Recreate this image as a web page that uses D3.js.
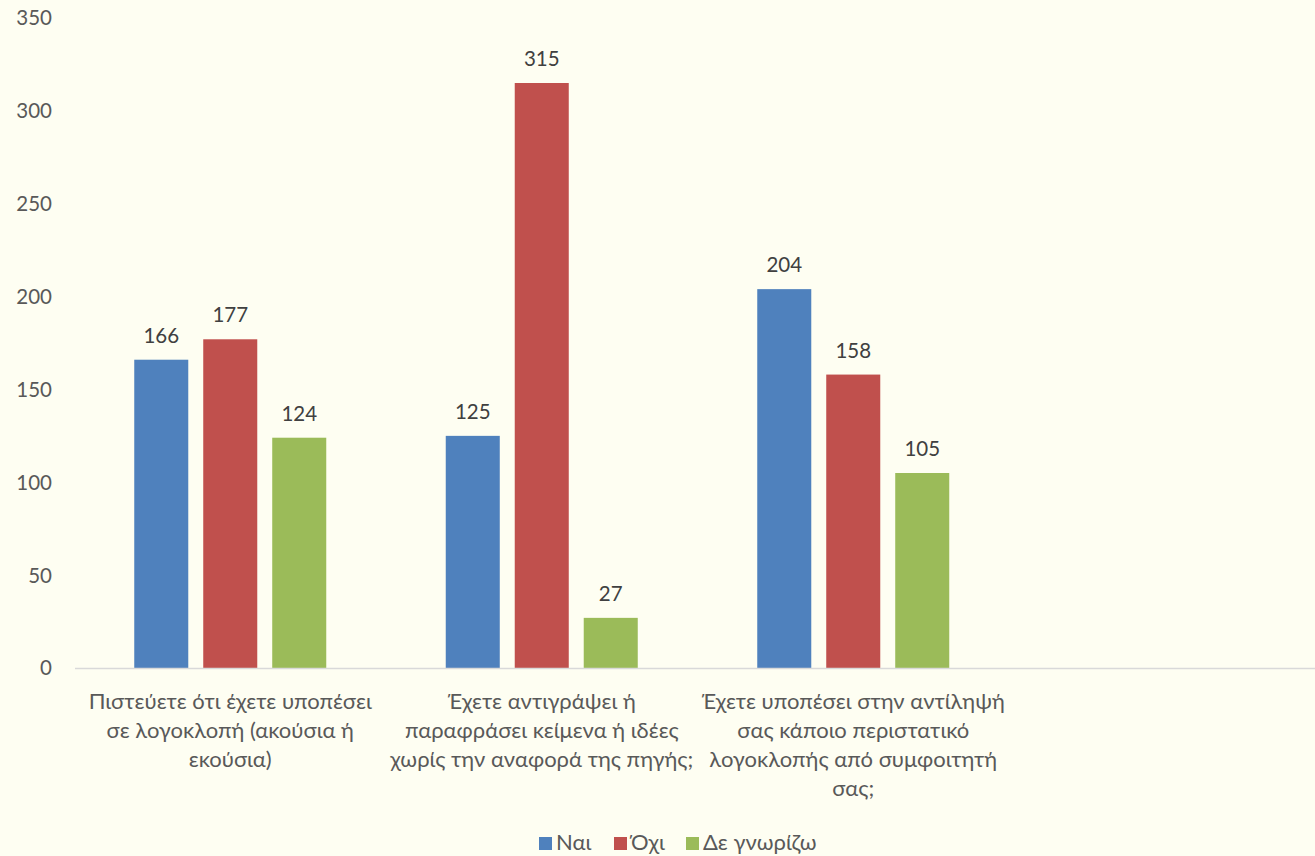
<!DOCTYPE html>
<html><head><meta charset="utf-8">
<script src="https://cdn.jsdelivr.net/npm/d3@7"></script>
<style>body{margin:0;background:#FEFEF2;}svg{display:block;font-family:Lato,"Open Sans",sans-serif;}</style>
</head><body><svg id="c" width="1315" height="856"></svg>
<script>
const categories = [
  ["Πιστεύετε ότι έχετε υποπέσει","σε λογοκλοπή (ακούσια ή","εκούσια)"],
  ["Έχετε αντιγράψει ή","παραφράσει κείμενα ή ιδέες","χωρίς την αναφορά της πηγής;"],
  ["Έχετε υποπέσει στην αντίληψή","σας κάποιο περιστατικό","λογοκλοπής από συμφοιτητή","σας;"],
  []
];
const seriesNames = ["Ναι","Όχι","Δε γνωρίζω"];
const nai = [166,125,204,null];
const oxi = [177,315,158,null];
const deGnorizo = [124,27,105,null];
const yTicks = [0,50,100,150,200,250,300,350];
const colors = ["#4F81BD","#C0504D","#9BBB59"];
const series = [nai,oxi,deGnorizo];

const svg = d3.select("#c");
const mLeft = 74.5, mRight = 1320.5, mTop = 18, mBottom = 668;
const x0 = d3.scaleBand().domain(d3.range(categories.length)).range([mLeft,mRight]).paddingInner(0).paddingOuter(0);
const x1 = d3.scaleBand().domain(d3.range(series.length)).range([59.75, x0.bandwidth()-59.75]).paddingInner(0.217).paddingOuter(0);
const y = d3.scaleLinear().domain([0,350]).range([mBottom, mTop]);

// y tick labels
svg.append("g").selectAll("text").data(yTicks).join("text")
  .attr("x",52).attr("y",d=>y(d)).attr("dy","0.36em").attr("text-anchor","end")
  .attr("font-size",20.5).attr("fill","#595959").text(d=>d);

// bars
const g = svg.append("g");
series.forEach((s,si)=>{
  s.forEach((v,ci)=>{
    if(v==null) return;
    const bx = x0(ci)+x1(si);
    g.append("rect").attr("x",bx).attr("y",y(v)).attr("width",x1.bandwidth()).attr("height",y(0)-y(v)).attr("fill",colors[si]);
    g.append("text").attr("x",bx+x1.bandwidth()/2).attr("y",y(v)-17).attr("text-anchor","middle")
      .attr("font-size",20.5).attr("fill","#404040").text(v);
  });
});

// x axis line
svg.append("line").attr("x1",75).attr("x2",1315).attr("y1",y(0)+0.5).attr("y2",y(0)+0.5)
  .attr("stroke","#D9D9D9").attr("stroke-width",1.5);

// category labels
categories.forEach((lines,ci)=>{
  const cx = x0(ci)+x0.bandwidth()/2;
  const t = svg.append("text").attr("text-anchor","middle").attr("font-size",22).attr("fill","#595959");
  lines.forEach((l,i)=>{
    t.append("tspan").attr("x",cx).attr("y",709+i*29).text(l);
  });
});

// legend
const legendX = [539,614,686];
seriesNames.forEach((n,i)=>{
  svg.append("rect").attr("x",legendX[i]).attr("y",837).attr("width",13).attr("height",13).attr("fill",colors[i]);
  svg.append("text").attr("x",legendX[i]+17).attr("y",850).attr("font-size",22).attr("fill","#595959").text(n);
});
</script></body></html>
